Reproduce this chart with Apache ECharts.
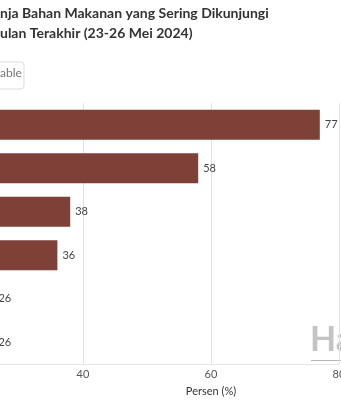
<!DOCTYPE html>
<html>
<head>
<meta charset="utf-8">
<script src="https://cdn.jsdelivr.net/npm/echarts@6/dist/echarts.min.js"></script>
<style>
html,body{margin:0;padding:0;background:#fff;overflow:hidden;width:341px;height:400px;}
#c{position:absolute;left:-173px;top:0;width:514px;height:400px;}
</style>
</head>
<body>
<div id="c"></div>
<script>
// Data (category labels are cropped off in the reference)
var categories = ['Pasar tradisional', 'Supermarket', 'Minimarket', 'Warung', 'Tukang sayur keliling', 'Belanja online'];
var values = [77, 58, 38, 36, 26, 26];
var xTicks = [0, 20, 40, 60, 80];
var titleLine1 = 'nja Bahan Makanan yang Sering Dikunjungi';
var titleLine2 = 'ulan Terakhir (23-26 Mei 2024)';
var axisName = 'Persen (%)';

var OX = 173; // the visible page starts 173px into the chart canvas
var chart = echarts.init(document.getElementById('c'), null, {renderer: 'canvas'});
var FONT = 'Lato, "Open Sans", sans-serif';
chart.setOption({
  animation: false,
  backgroundColor: '#fff',
  textStyle: {fontFamily: FONT},
  grid: {left: 0, right: 2, top: 103, bottom: 36, containLabel: false, outerBoundsMode: 'none'},
  xAxis: {
    type: 'value',
    min: xTicks[0],
    max: xTicks[xTicks.length - 1],
    interval: 20,
    axisLine: {show: true, lineStyle: {color: '#e6e6e6'}},
    axisTick: {show: false},
    splitLine: {show: true, lineStyle: {color: '#e3e3e3', width: 1}},
    axisLabel: {color: '#555', fontSize: 11, fontFamily: FONT, margin: 5}
  },
  yAxis: {
    type: 'category',
    data: categories,
    inverse: true,
    axisLine: {show: false},
    axisTick: {show: false},
    axisLabel: {show: false}
  },
  series: [{
    type: 'bar',
    data: values,
    barCategoryGap: '31%',
    itemStyle: {color: '#7d4137'},
    label: {show: true, position: 'right', distance: 5, color: '#444', fontSize: 11, fontFamily: FONT}
  }],
  graphic: [
    {type: 'text', x: OX, y: 6, style: {text: titleLine1, fill: '#333', font: 'bold 14px ' + FONT}},
    {type: 'text', x: OX, y: 26, style: {text: titleLine2, fill: '#333', font: 'bold 14px ' + FONT}},
    {type: 'rect', shape: {x: OX - 30, y: 62, width: 54, height: 27, r: 3}, style: {fill: '#fff', stroke: '#dddddd', lineWidth: 1}},
    {type: 'text', x: OX, y: 67, style: {text: 'able', fill: '#777', font: '12px ' + FONT}},
    {type: 'text', x: OX + 211, y: 386, style: {text: axisName, fill: '#333', font: '11px ' + FONT, textAlign: 'center'}},
    {type: 'text', x: OX + 310, y: 323, style: {text: 'Ha', fill: '#c4c4c4', font: 'bold 34px ' + FONT}},
    {type: 'line', shape: {x1: OX + 311, y1: 360.5, x2: OX + 341, y2: 360.5}, style: {stroke: '#b5b5b5', lineWidth: 1}}
  ]
});
</script>
</body>
</html>
